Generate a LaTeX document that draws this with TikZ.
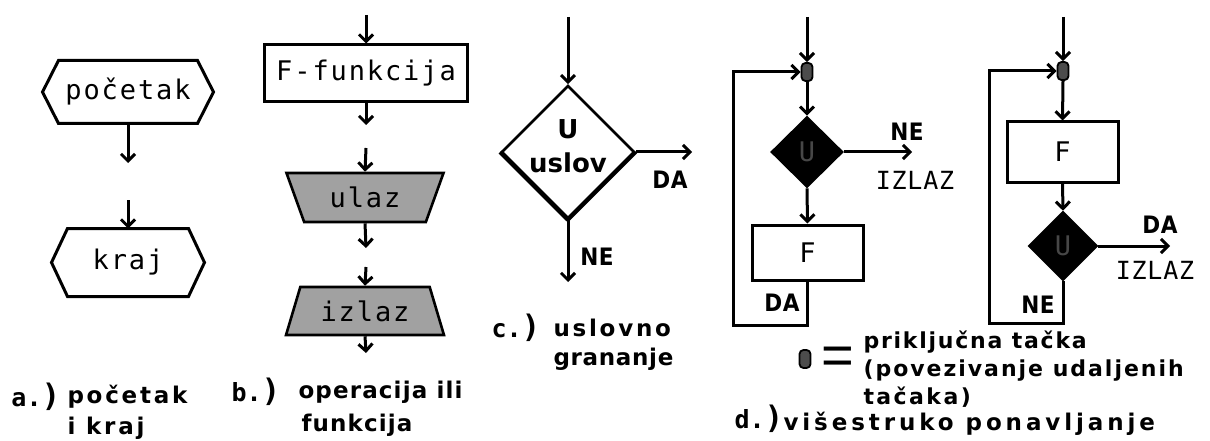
\documentclass[tikz,border=0pt]{standalone}
\usepackage{fontspec}
\usetikzlibrary{arrows.meta,shapes.geometric}
\newfontfamily\pixfont[LetterSpace=7]{DejaVu Sans Mono}
\newfontfamily\pixthin[LetterSpace=3]{DejaVu Sans Mono}
\newfontfamily\pixboldfont[LetterSpace=2]{DejaVu Sans Condensed Bold}
\newfontfamily\tagfont{DejaVu Sans Mono Bold}
\newfontfamily\labfont{DejaVu Sans Bold}
\newfontfamily\eqfont{Liberation Sans}
\begin{document}
\begin{tikzpicture}[x=1pt,y=-1pt,line width=3pt,
  arr/.style={-{Straight Barb[length=7pt,width=14pt]}},
  edge/.style={line width=3pt},
  pix/.style={font=\fontsize{27}{29}\selectfont\pixfont, inner sep=0pt},
  thin/.style={font=\fontsize{25}{27}\selectfont\pixthin, inner sep=0pt},
  yn/.style={font=\fontsize{24}{26}\selectfont\pixboldfont, inner sep=0pt},
  lab/.style={font=\fontsize{23}{26}\selectfont\labfont, inner sep=0pt, anchor=west},
  leg/.style={font=\fontsize{22}{28}\selectfont\labfont, inner sep=0pt, anchor=west, align=left},
  tag/.style={font=\fontsize{25}{26}\selectfont\tagfont, inner sep=0pt, anchor=west},
  box/.style={draw, line width=3pt, inner sep=0pt},
  trap/.style={draw, line width=2.6pt, fill=black!37, trapezium, trapezium stretches=true, inner sep=0pt,
     font=\fontsize{27}{29}\selectfont\pixfont},
  cond/.style={draw, diamond, line width=2.6pt, inner sep=0pt},
  blk/.style={cond, fill=black, text=black!72, font=\fontsize{27}{29}\selectfont\pixfont},
  jdot/.style={draw, line width=1.8pt, fill=black!70, rounded corners=4pt, minimum width=11pt, minimum height=18pt, inner sep=0pt}
]
\useasboundingbox (0,0) rectangle (1210,441);
\fill[white] (0,0) rectangle (1210,441);

% ---------- a) pocetak i kraj
\node[pix, minimum width=136, minimum height=60] (start) at (128,92) {početak};
\draw[edge] (start.north west) -- (start.north east) -- ([xshift=16pt]start.east) -- (start.south east)
  -- (start.south west) -- ([xshift=-16pt]start.west) -- cycle;
\node[pix, minimum width=118, minimum height=65] (kraj) at (128,262.5) {kraj};
\draw[edge] (kraj.north west) -- (kraj.north east) -- ([xshift=16pt]kraj.east) -- (kraj.south east)
  -- (kraj.south west) -- ([xshift=-16pt]kraj.west) -- cycle;
\coordinate (a1) at (128,163);
\coordinate (a2) at (128,200);
\draw[arr] (start.south) -- (a1);
\draw[arr] (a2) -- (kraj.north);

% ---------- b) operacija ili funkcija
\coordinate (b0) at (366,15);
\node[box, pix, minimum width=203, minimum height=57] (ff) at (366,73.5) {F-funkcija};
\coordinate (b1) at (366,125);
\coordinate (b2) at (366,148);
\node[trap, shape border rotate=180, trapezium angle=64, minimum width=158, minimum height=49] (ulaz) at (365,197.5) {ulaz};
\coordinate (b3) at (366,248);
\coordinate (b4) at (366,267);
\node[trap, trapezium angle=65, minimum width=158, minimum height=48] (izlaz) at (365,311) {izlaz};
\coordinate (b5) at (366,353);
\draw[arr] (b0) -- (ff.north);
\draw[arr] (ff.south) -- (b1);
\draw[arr] (b2) -- (ulaz.north);
\draw[arr] (ulaz.south) -- (b3);
\draw[arr] (b4) -- (izlaz.north);
\draw[arr] (izlaz.south) -- (b5);

% ---------- c) uslovno grananje
\coordinate (c0) at (568,17);
\node[cond, minimum width=133, minimum height=133] (cnd) at (568,152) {};
\draw[line width=4.2pt] (cnd.west) -- (cnd.south);
\draw[line width=3.6pt] (cnd.south) -- (cnd.east);
\node[font=\fontsize{26}{34}\selectfont\labfont, align=center, inner sep=0pt] (cndt) at (568,146) {U\\uslov};
\coordinate (c1) at (692,152);
\coordinate (c2) at (568,282);
\draw[arr] (c0) -- (cnd.north);
\draw[arr] (cnd.east) -- (c1);
\draw[arr] (cnd.south) -- (c2);
\node[yn] (cda) at (670,180) {DA};
\node[yn] (cne) at (597,257) {NE};

% ---------- d1) while loop
\coordinate (d10) at (807,17);
\node[jdot] (dot1) at (807,72) {};
\node[blk, minimum width=71, minimum height=70] (u1) at (807,152) {U};
\node[box, font=\fontsize{27}{29}\selectfont\pixfont, minimum width=111, minimum height=55] (f1) at (807.5,252.5) {F};
\coordinate (d11) at (912,152);
\coordinate (l1) at (733,325);
\draw[arr] (d10) -- (dot1.north);
\draw[arr] (dot1.south) -- (u1.north);
\draw[arr] (u1.south) -- (f1.north);
\draw[arr] (u1.east) -- (d11);
\draw[arr] (f1.south) |- (l1) |- (dot1.west);
\node[yn] (d1ne) at (907,132) {NE};
\node[thin] (d1iz) at (915,180) {IZLAZ};
\node[yn] (d1da) at (782,303) {DA};

% ---------- d2) repeat loop
\coordinate (d20) at (1063,17);
\node[jdot] (dot2) at (1063,71) {};
\node[box, font=\fontsize{27}{29}\selectfont\pixfont, minimum width=111, minimum height=60] (f2) at (1062.5,152) {F};
\node[blk, minimum width=68, minimum height=68] (u2) at (1063,246) {U};
\coordinate (d21) at (1170,246);
\coordinate (l2) at (989,323);
\draw[arr] (d20) -- (dot2.north);
\draw[arr] (dot2.south) -- (f2.north);
\draw[arr] (f2.south) -- (u2.north);
\draw[arr] (u2.east) -- (d21);
\draw[arr] (u2.south) |- (l2) |- (dot2.west);
\node[yn] (d2da) at (1160,225) {DA};
\node[thin] (d2iz) at (1155,270) {IZLAZ};
\node[yn] (d2ne) at (1038,305) {NE};

% ---------- legend
\node[jdot] (dot3) at (805,359) {};
\node[font=\fontsize{56}{56}\selectfont\eqfont, inner sep=0pt] (eq) at (838,361) {=};
\node[leg] (lg) at (862,369) {\addfontfeature{LetterSpace=8}priključna tačka\\
  \addfontfeature{LetterSpace=9}(povezivanje udaljenih\\
  \addfontfeature{LetterSpace=11}tačaka)};

% ---------- captions
\node[tag] (ta) at (10,397) {a.\fontsize{31}{31}\selectfont)};
\node[lab] (tap) at (66,397) {\addfontfeature{LetterSpace=12}početak};
\node[lab] (tak) at (66,428) {\addfontfeature{LetterSpace=12}i kraj};
\node[tag] (tb) at (230,392) {b.\fontsize{31}{31}\selectfont)};
\node[lab] (tbo) at (297,392) {\addfontfeature{LetterSpace=5}operacija ili};
\node[lab] (tbf) at (300,425) {\addfontfeature{LetterSpace=5}funkcija};
\node[tag] (tc) at (490,328) {c.\fontsize{31}{31}\selectfont)};
\node[lab] (tcu) at (552,328) {\addfontfeature{LetterSpace=12}uslovno};
\node[lab] (tcg) at (552,359) {\addfontfeature{LetterSpace=3}grananje};
\node[tag] (td) at (733,419) {d.\fontsize{31}{31}\selectfont)};
\node[lab] (tdv) at (782,424) {\addfontfeature{LetterSpace=17}višestruko ponavljanje};
\end{tikzpicture}
\end{document}
